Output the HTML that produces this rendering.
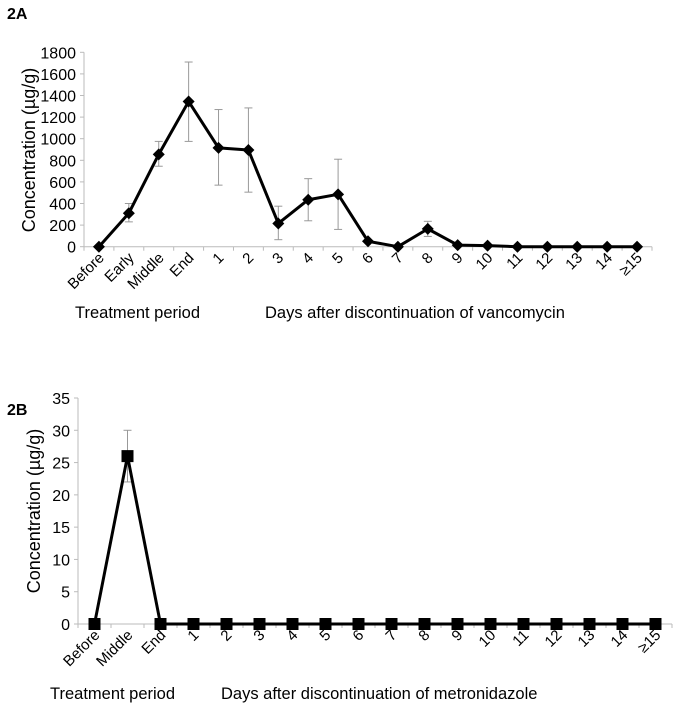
<!DOCTYPE html>
<html><head><meta charset="utf-8"><style>
body{margin:0;background:#fff;}
svg{display:block;font-family:"Liberation Sans",sans-serif;}
</style></head><body>
<svg id="chart" width="683" height="710">
<text x="7" y="19" font-size="16" font-weight="bold">2A</text>
<text x="7" y="415" font-size="16" font-weight="bold">2B</text>
<text transform="translate(35,150) rotate(-90)" text-anchor="middle" font-size="18">Concentration (µg/g)</text>
<text transform="translate(40,511) rotate(-90)" text-anchor="middle" font-size="18">Concentration (µg/g)</text>
<text x="75" y="318" font-size="16.5">Treatment period</text>
<text x="265" y="318" font-size="16.5">Days after discontinuation of vancomycin</text>
<text x="50" y="699" font-size="16.5">Treatment period</text>
<text x="221" y="699" font-size="16.5">Days after discontinuation of metronidazole</text>
</svg>
<script>
const catsA=["Before","Early","Middle","End","1","2","3","4","5","6","7","8","9","10","11","12","13","14","≥15"];
const valsA=[0,310,855,1345,915,895,215,435,485,50,0,165,15,10,0,0,0,0,0];
const errLoA=[0,230,745,975,570,505,65,240,160,50,0,95,15,10,0,0,0,0,0];
const errHiA=[0,400,975,1710,1270,1285,375,630,810,50,0,235,15,10,0,0,0,0,0];
const ticksA=[0,200,400,600,800,1000,1200,1400,1600,1800];
const catsB=["Before","Middle","End","1","2","3","4","5","6","7","8","9","10","11","12","13","14","≥15"];
const valsB=[0,26,0,0,0,0,0,0,0,0,0,0,0,0,0,0,0,0];
const errLoB=[0,22,0,0,0,0,0,0,0,0,0,0,0,0,0,0,0,0];
const errHiB=[0,30,0,0,0,0,0,0,0,0,0,0,0,0,0,0,0,0];
const ticksB=[0,5,10,15,20,25,30,35];
const NS="http://www.w3.org/2000/svg";
const svg=document.getElementById('chart');
function mk(t,a,txt){const e=document.createElementNS(NS,t);for(const k in a)e.setAttribute(k,a[k]);if(txt!==undefined)e.textContent=txt;svg.appendChild(e);return e;}
function draw(p,cats,vals,lo,hi,ticks,x0,x1,y0,y1,ymax,marker){
  const bw=(x1-x0)/cats.length;
  const X=i=>x0+bw*(i+0.5);
  const Y=v=>y0-(v/ymax)*(y0-y1);
  let e=mk('line',{x1:x0,y1:Y(ymax),x2:x0,y2:y0,stroke:'#bbb','stroke-width':1});
  
  
  ticks.forEach(t=>{
    mk('line',{x1:x0-4,y1:Y(t),x2:x0,y2:Y(t),stroke:'#bbb'});
    e=mk('text',{x:x0-8,y:Y(t)+6,'text-anchor':'end','font-size':16},t);
    
    
  });
  e=mk('line',{x1:x0,y1:y0,x2:x1,y2:y0,stroke:'#bbb','stroke-width':1});
  
  
  for(let i=0;i<=cats.length;i++)mk('line',{x1:x0+bw*i,y1:y0,x2:x0+bw*i,y2:y0+4,stroke:'#bbb'});
  cats.forEach((c,i)=>{
    e=mk('text',{transform:`translate(${X(i)+6},${y0+12}) rotate(-45)`,'text-anchor':'end','font-size':15},c);
    
    
  });
  vals.forEach((v,i)=>{
    if(hi[i]>lo[i]){
      e=mk('line',{x1:X(i),y1:Y(hi[i]),x2:X(i),y2:Y(lo[i]),stroke:'#999','stroke-width':1});
      
      
      mk('line',{x1:X(i)-4,y1:Y(hi[i]),x2:X(i)+4,y2:Y(hi[i]),stroke:'#999'});
      mk('line',{x1:X(i)-4,y1:Y(lo[i]),x2:X(i)+4,y2:Y(lo[i]),stroke:'#999'});
    }
  });
  e=mk('polyline',{points:vals.map((v,i)=>X(i)+','+Y(v)).join(' '),fill:'none',stroke:'#000','stroke-width':3,'stroke-linejoin':'round'});
  
  
  vals.forEach((v,i)=>{
    const x=X(i),y=Y(v);
    if(marker==='diamond')e=mk('polygon',{points:`${x},${y-6} ${x+6},${y} ${x},${y+6} ${x-6},${y}`,fill:'#000'});
    else e=mk('rect',{x:x-6,y:y-6,width:12,height:12,fill:'#000'});
    
    
  });
}
draw('a',catsA,valsA,errLoA,errHiA,ticksA,84,652,246.7,52.3,1800,'diamond');
draw('b',catsB,valsB,errLoB,errHiB,ticksB,78,672,624,398,35,'square');
</script>
</body></html>
